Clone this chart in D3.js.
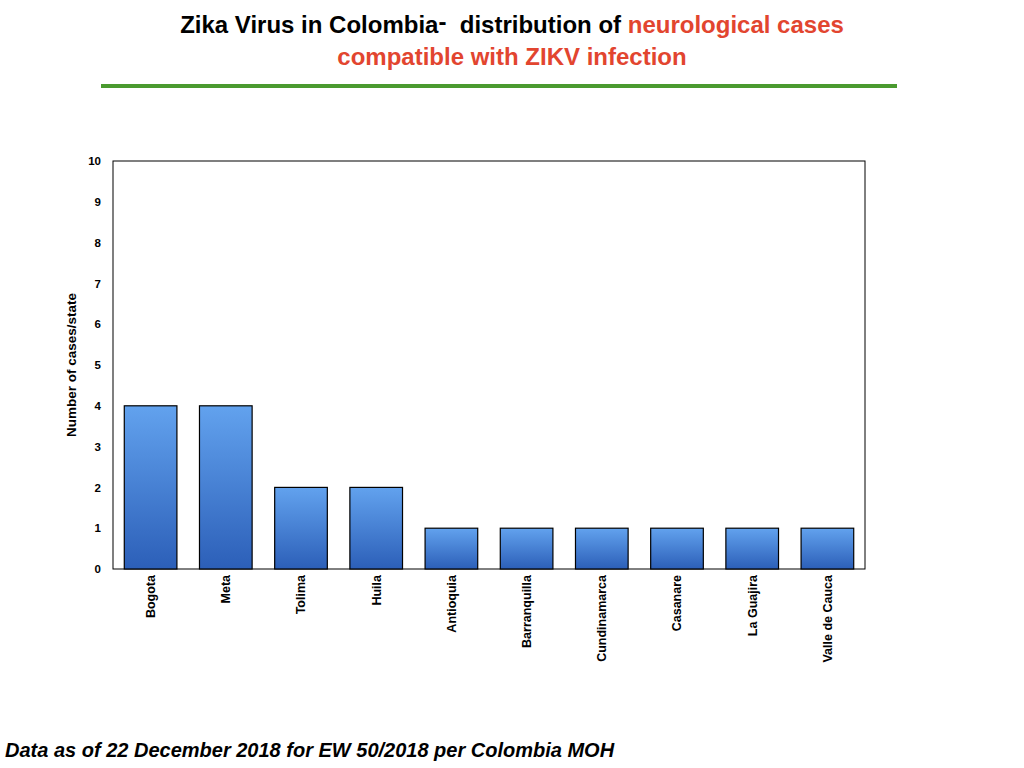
<!DOCTYPE html>
<html>
<head>
<meta charset="utf-8">
<script src="https://cdn.jsdelivr.net/npm/d3@7"></script>
<style>
  body { margin: 0; background: #fff; }
  svg { display: block; font-family: "Liberation Sans", Arial, sans-serif; }
</style>
</head>
<body>
<script>
// data
const states = ["Bogota", "Meta", "Tolima", "Huila", "Antioquia", "Barranquilla",
    "Cundinamarca", "Casanare", "La Guajira", "Valle de Cauca"];
const cases = [4, 4, 2, 2, 1, 1, 1, 1, 1, 1];
const yTicks = [0, 1, 2, 3, 4, 5, 6, 7, 8, 9, 10];

const svg = d3.select("body").append("svg")
    .attr("width", 1024)
    .attr("height", 768);

// gradient for bars
const grad = svg.append("defs").append("linearGradient")
    .attr("id", "barGrad")
    .attr("x1", 0).attr("y1", 0).attr("x2", 0).attr("y2", 1);
grad.append("stop").attr("offset", "0%").attr("stop-color", "#62a2ee");
grad.append("stop").attr("offset", "100%").attr("stop-color", "#2c5fb8");

// title
const title = svg.append("text")
    .attr("x", 512).attr("y", 33)
    .attr("text-anchor", "middle")
    .style("font-size", "24px")
    .style("font-weight", "bold")
    .style("white-space", "pre");
title.append("tspan").attr("fill", "#000").text("Zika Virus in Colombia");
title.append("tspan").attr("fill", "#000").attr("dy", -3).text("-");
title.append("tspan").attr("fill", "#000").attr("dy", 3).text("  distribution of ");
title.append("tspan").attr("fill", "#e2452f").text("neurological cases");

svg.append("text")
    .attr("x", 512).attr("y", 65)
    .attr("text-anchor", "middle")
    .attr("fill", "#e2452f")
    .style("font-size", "24px")
    .style("font-weight", "bold")
    .text("compatible with ZIKV infection");

svg.append("line")
    .attr("x1", 101).attr("x2", 897)
    .attr("y1", 86).attr("y2", 86)
    .attr("stroke", "#4a9a2f")
    .attr("stroke-width", 4);

// chart area
const margin = { left: 113, top: 161, right: 865, bottom: 569 };

const x = d3.scaleBand()
    .domain(states)
    .range([margin.left, margin.right])
    .paddingInner(0.3)
    .paddingOuter(0.15);

const y = d3.scaleLinear()
    .domain([0, 10])
    .range([margin.bottom, margin.top]);

// frame
svg.append("rect")
    .attr("x", margin.left).attr("y", margin.top)
    .attr("width", margin.right - margin.left)
    .attr("height", margin.bottom - margin.top)
    .attr("fill", "none")
    .attr("stroke", "#000")
    .attr("stroke-width", 1);

// bars
svg.selectAll("rect.bar")
    .data(states)
    .enter()
    .append("rect")
    .attr("class", "bar")
    .attr("x", d => x(d))
    .attr("y", (d, i) => y(cases[i]))
    .attr("width", x.bandwidth())
    .attr("height", (d, i) => y(0) - y(cases[i]))
    .attr("fill", "url(#barGrad)")
    .attr("stroke", "#000")
    .attr("stroke-width", 1.2);

// y axis
const yAxis = svg.append("g")
    .attr("transform", `translate(${margin.left},0)`)
    .call(d3.axisLeft(y).tickValues(yTicks).tickFormat(d3.format("d")).tickSize(0).tickPadding(12));
yAxis.select(".domain").remove();
yAxis.selectAll("text")
    .attr("fill", "#000")
    .style("font-size", "11.5px")
    .style("font-weight", "bold")
    .style("font-family", "Liberation Sans, Arial, sans-serif");

// x axis labels
const xAxis = svg.append("g")
    .attr("transform", `translate(0,${margin.bottom})`)
    .call(d3.axisBottom(x).tickSize(0).tickPadding(0));
xAxis.select(".domain").remove();
xAxis.selectAll("text")
    .attr("transform", "rotate(-90)")
    .attr("x", -6)
    .attr("y", 0)
    .attr("dy", "0.35em")
    .attr("text-anchor", "end")
    .attr("fill", "#000")
    .style("font-size", "12.5px")
    .style("font-weight", "bold")
    .style("font-family", "Liberation Sans, Arial, sans-serif");

// y label
svg.append("text")
    .attr("transform", `translate(76,${(margin.top + margin.bottom) / 2}) rotate(-90)`)
    .attr("text-anchor", "middle")
    .style("font-size", "13.5px")
    .style("font-weight", "bold")
    .text("Number of cases/state");

// footnote
svg.append("text")
    .attr("x", 5).attr("y", 757)
    .style("font-size", "20px")
    .style("font-weight", "bold")
    .style("font-style", "italic")
    .text("Data as of 22 December 2018 for EW 50/2018 per Colombia MOH");
</script>
</body>
</html>
